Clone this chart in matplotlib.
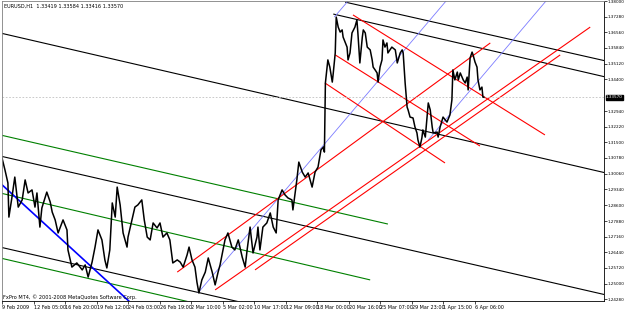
import numpy as np
import matplotlib.pyplot as plt

# EURUSD H1, horas de trading desde 9 Feb 2009 00:00
horas = [0, 6, 12, 14, 20, 26, 33, 41, 47, 53, 61, 67, 71, 77, 81, 91, 98, 102, 108, 114,
         124, 132, 134, 142, 152, 163, 169, 175, 183, 189, 195, 203, 209, 213, 219, 224, 230, 234, 240, 246,
         254, 256, 264, 270, 276, 284, 289, 295, 301, 307, 315, 321, 327, 335, 341, 347, 356, 362, 368, 376,
         380, 386, 392, 396, 400, 406, 413, 419, 427, 433, 439, 443, 453, 459, 467, 473, 480, 488, 494, 498,
         504, 510, 518, 520, 524, 530, 538, 545, 551, 557, 561, 569, 575, 581, 589, 591, 599, 603, 610, 616,
         622, 630, 636, 642, 648, 653, 655, 657, 662, 666, 671, 673, 677, 679, 683, 687, 691, 693, 701, 703,
         707, 711, 717, 721, 723, 727, 732, 734, 738, 742, 748, 752, 754, 758, 762, 764, 768, 772, 774, 778,
         782, 784, 792, 799, 803, 809, 813, 815, 819, 823, 825, 829, 835, 839, 843, 845, 849, 853, 855, 860,
         866, 870, 874, 876, 884, 886, 890, 896, 904, 910, 914, 916, 920, 925, 927, 931, 937, 941, 945, 947,
         951, 955, 957, 961, 965, 967, 971, 975, 977, 979]
precio = [1.3078, 1.3023, 1.2963, 1.2806, 1.2894, 1.2990, 1.2852, 1.2885, 1.2977, 1.2917, 1.2931, 1.2852, 1.2917, 1.2760, 1.2848, 1.2921, 1.2875, 1.2829, 1.2793, 1.2733,
          1.2793, 1.2747, 1.2655, 1.2576, 1.2595, 1.2563, 1.2586, 1.2530, 1.2599, 1.2668, 1.2747, 1.2701, 1.2609, 1.2572, 1.2655, 1.2871, 1.2806, 1.2944, 1.2862, 1.2733,
          1.2668, 1.2714, 1.2793, 1.2852, 1.2862, 1.2885, 1.2793, 1.2714, 1.2701, 1.2779, 1.2756, 1.2779, 1.2714, 1.2733, 1.2701, 1.2595, 1.2609, 1.2599, 1.2576, 1.2632,
          1.2668, 1.2609, 1.2576, 1.2507, 1.2457, 1.2517, 1.2553, 1.2618, 1.2553, 1.2494, 1.2553, 1.2586, 1.2701, 1.2733, 1.2668, 1.2655, 1.2701, 1.2622, 1.2576, 1.2655,
          1.2760, 1.2641, 1.2714, 1.2760, 1.2655, 1.2760, 1.2779, 1.2825, 1.2760, 1.2733, 1.2885, 1.2931, 1.2908, 1.2894, 1.2885, 1.2839, 1.2977, 1.3059, 1.3013, 1.2990,
          1.3009, 1.2944, 1.3013, 1.3036, 1.3115, 1.3128, 1.3105, 1.3423, 1.3529, 1.3496, 1.3427, 1.3469, 1.3561, 1.3726, 1.3680, 1.3657, 1.3667, 1.3634, 1.3588, 1.3529,
          1.3561, 1.3653, 1.3680, 1.3713, 1.3653, 1.3515, 1.3634, 1.3667, 1.3653, 1.3588, 1.3575, 1.3529, 1.3496, 1.3483, 1.3469, 1.3427, 1.3496, 1.3529, 1.3621, 1.3588,
          1.3607, 1.3561, 1.3588, 1.3575, 1.3515, 1.3561, 1.3575, 1.3561, 1.3423, 1.3312, 1.3299, 1.3266, 1.3262, 1.3220, 1.3193, 1.3161, 1.3128, 1.3170, 1.3207, 1.3174,
          1.3331, 1.3299, 1.3220, 1.3193, 1.3197, 1.3174, 1.3220, 1.3266, 1.3243, 1.3276, 1.3345, 1.3483, 1.3437, 1.3473, 1.3437, 1.3469, 1.3437, 1.3423, 1.3450, 1.3391,
          1.3538, 1.3565, 1.3552, 1.3519, 1.3496, 1.3437, 1.3391, 1.3404, 1.3358, 1.3357]

# lineas de tendencia: (hora0, precio0, hora1, precio1)
lineas_negras = [(697, 1.3795, 1227, 1.3524), (673, 1.3740, 1227, 1.3450),
                 (-4, 1.3653, 1227, 1.3009), (-4, 1.3087, 1227, 1.2448),
                 (-4, 1.2668, 484, 1.2415)]
lineas_verdes = [(-4, 1.3184, 784, 1.2774), (-4, 1.2917, 748, 1.2517), (-4, 1.2618, 382, 1.2415)]
linea_azul = (-4, 1.2963, 260, 1.2415)
lineas_celestes = [(398, 1.2457, 904, 1.3805), (675, 1.3726, 705, 1.3805), (866, 1.3161, 1107, 1.3805)]
lineas_rojas = [(356, 1.2553, 992, 1.3607), (433, 1.2471, 1195, 1.3680), (514, 1.2563, 1134, 1.3552),
                (713, 1.3736, 1103, 1.3184), (677, 1.3552, 971, 1.3133), (656, 1.3423, 900, 1.3055)]

precio_actual = 1.33570
cabecera = 'EURUSD,H1  1.33419 1.33584 1.33416 1.33570'

niveles = [1.38000, 1.37280, 1.36560, 1.35840, 1.35120, 1.34400, 1.32940, 1.32220, 1.31500, 1.30780,
           1.30060, 1.29340, 1.28600, 1.27880, 1.27160, 1.26440, 1.25720, 1.25000, 1.24280]
fechas = ['9 Feb 2009', '12 Feb 05:00', '16 Feb 20:00', '19 Feb 12:00', '24 Feb 03:00', '26 Feb 19:00',
          '2 Mar 10:00', '5 Mar 02:00', '10 Mar 17:00', '12 Mar 09:00', '18 Mar 00:00', '20 Mar 16:00',
          '25 Mar 07:00', '29 Mar 23:00', '1 Apr 15:00', '6 Apr 06:00']

fig = plt.figure(figsize=(6.25, 3.1), dpi=100)
ax = fig.add_axes([2/625, 9/310, 602/625, 300/310])
ax.set_xlim(0, 1223)
ax.set_ylim(1.2420, 1.3800)

def trazar(l, color, lw):
    ax.plot([l[0], l[2]], [l[1], l[3]], color=color, lw=lw, solid_capstyle='butt')

for l in lineas_negras:
    trazar(l, 'black', 0.8)
for l in lineas_verdes:
    trazar(l, '#008000', 0.8)
trazar(linea_azul, '#0000ff', 1.2)
for l in lineas_celestes:
    trazar(l, '#7b7bff', 0.6)
for l in lineas_rojas:
    trazar(l, '#ff0000', 0.8)

ax.axhline(precio_actual, color='#c0c0c0', lw=0.6, ls=(0, (2, 2)))
ax.plot(horas, precio, color='black', lw=1.1)

# ejes
ax.yaxis.tick_right()
ax.set_yticks(niveles)
ax.set_yticklabels(['%.5f' % v for v in niveles], fontsize=3.0)
ax.set_xticks(np.arange(len(fechas)) * 64)
ax.set_xticklabels(fechas, fontsize=3.5, ha='left')
ax.tick_params(axis='x', length=2, width=0.5, pad=1)
ax.tick_params(axis='y', length=2, width=0.5, pad=0.5)
for s in ax.spines.values():
    s.set_linewidth(0.6)
ax.spines['top'].set_color('#808080')
ax.spines['left'].set_color('#808080')

ax.annotate('%.5f' % precio_actual, xy=(1.0, precio_actual), xycoords=('axes fraction', 'data'),
            xytext=(1.5, 0), textcoords='offset points', fontsize=3.0, color='white', va='center',
            bbox=dict(boxstyle='square,pad=0.1', fc='black', ec='black'))

fig.text(4/625, 1 - 6/310, cabecera, fontsize=3.6, va='center')
fig.text(3/625, 1 - 297/310, 'FxPro MT4, \u00a9 2001-2008 MetaQuotes Software Corp.', fontsize=3.6, va='center')

fig.savefig('out.png', dpi=100)
